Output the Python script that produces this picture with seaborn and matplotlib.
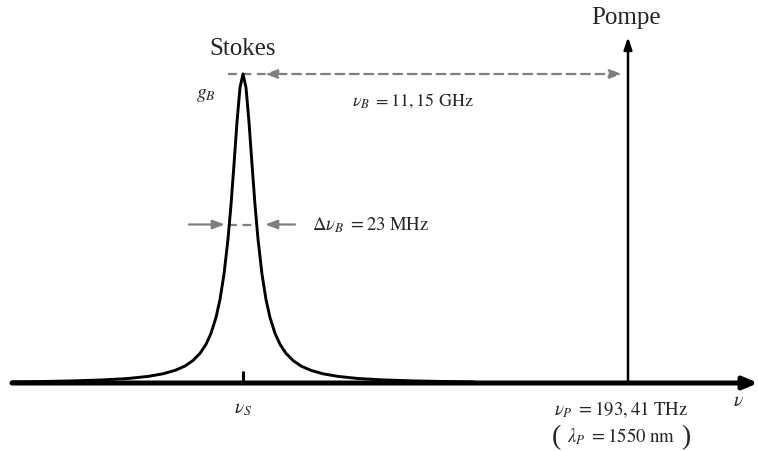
import matplotlib
matplotlib.use("Agg")
import matplotlib.pyplot as plt
import pandas as pd
import seaborn as sns

# Brillouin gain curve (schematic units: offset from nu_S, height above axis)
offsets = [-231, -200, -170, -140, -115, -95, -80, -68, -58, -50, -43, -37, -32,
           -27, -23, -19, -15, -12, -9, -6, -3, 0, 3, 6, 9, 12, 15, 19, 23, 27,
           32, 37, 43, 50, 58, 68, 80, 95, 115, 140, 170, 200, 231]
heights_half = [1.1, 1.5, 2.1, 3.1, 4.5, 6.6, 9.2, 12.6, 17.0, 22.5, 29.6, 38.7,
                49.7, 65.5, 83.5, 108.8, 143.9, 178.1, 218.7, 261.0, 295.4]
peak_height = 309.0
heights = heights_half + [peak_height] + heights_half[::-1]

nu_S = 0
nu_P = 385
half_max_left = -15
half_max_right = 13

labels = {
    "stokes": "Stokes",
    "pompe": "Pompe",
    "gB": r"$g_B$",
    "nuB": r"$\nu_B\ = 11,15\ \mathrm{GHz}$",
    "dnu": r"$\Delta\nu_B\ = 23\ \mathrm{MHz}$",
    "nuS": r"$\nu_S$",
    "nuP": r"$\nu_P\ = 193,41\ \mathrm{THz}$",
    "lamP": r"$\lambda_P\ = 1550\ \mathrm{nm}$",
    "nu": r"$\nu$",
}

sns.set_theme(style="white")
plt.rcParams["font.family"] = ["Liberation Serif", "DejaVu Serif"]
plt.rcParams["mathtext.fontset"] = "stix"

fig = plt.figure(figsize=(7.58, 4.52), dpi=100)
ax = fig.add_axes([0, 0, 1, 1])
ax.set_xlim(-243, 515)
ax.set_ylim(-68, 384)
ax.axis("off")

gray = "#808080"
curve = pd.DataFrame({"nu": offsets, "gain": heights})
sns.lineplot(data=curve, x="nu", y="gain", ax=ax, color="black", lw=2.1,
             sort=False, zorder=3)

# frequency axis
ax.annotate("", xy=(515, 0), xytext=(-231, 0),
            arrowprops=dict(arrowstyle="-|>,head_length=0.7,head_width=0.3",
                            color="black", lw=3.6, shrinkA=0, shrinkB=0))
# tick at nu_S
ax.plot([nu_S, nu_S], [0, 12], color="black", lw=2.2, solid_capstyle="butt")

# pump line
ax.annotate("", xy=(nu_P, 346), xytext=(nu_P, 0),
            arrowprops=dict(arrowstyle="-|>,head_length=0.6,head_width=0.2",
                            color="black", lw=1.8, shrinkA=0, shrinkB=0))

# Brillouin shift (dashed, gray)
ax.plot([-15, 25], [peak_height, peak_height], color=gray, lw=1.6, ls=(0, (4, 2.5)))
ax.annotate("", xy=(22, peak_height), xytext=(nu_P - 6, peak_height),
            arrowprops=dict(arrowstyle="<|-|>,head_length=0.6,head_width=0.22",
                            color=gray, lw=1.6, ls=(0, (4, 2.5)),
                            shrinkA=0, shrinkB=0))

# linewidth markers
y_half = peak_height / 2 + 4
ax.plot([half_max_left, half_max_right], [y_half, y_half], color=gray, lw=1.6,
        ls=(0, (4, 2.5)))
ax.annotate("", xy=(-18, y_half), xytext=(-54, y_half),
            arrowprops=dict(arrowstyle="-|>,head_length=0.6,head_width=0.22",
                            color=gray, lw=1.6, shrinkA=0, shrinkB=0))
ax.annotate("", xy=(22, y_half), xytext=(52, y_half),
            arrowprops=dict(arrowstyle="-|>,head_length=0.6,head_width=0.22",
                            color=gray, lw=1.6, shrinkA=0, shrinkB=0))

# texts
ax.text(nu_S, 335, labels["stokes"], fontsize=18, ha="center", va="center")
ax.text(nu_P - 2, 366, labels["pompe"], fontsize=18, ha="center", va="center")
ax.text(-37, 288, labels["gB"], fontsize=14, ha="center", va="center")
ax.text(109, 283, labels["nuB"], fontsize=13, ha="left", va="center")
ax.text(69, y_half, labels["dnu"], fontsize=13.5, ha="left", va="center")
ax.text(nu_S, -26, labels["nuS"], fontsize=14, ha="center", va="center")
ax.text(nu_P - 7, -26, labels["nuP"], fontsize=13.5, ha="center", va="center")
ax.text(nu_P - 7, -53, labels["lamP"], fontsize=13.5, ha="center", va="center")
ax.text(nu_P - 72, -54, "(", fontsize=20, ha="center", va="center")
ax.text(nu_P + 58, -54, ")", fontsize=20, ha="center", va="center")
ax.text(495, -18, labels["nu"], fontsize=14, ha="center", va="center")

fig.savefig("out.png", dpi=100)
